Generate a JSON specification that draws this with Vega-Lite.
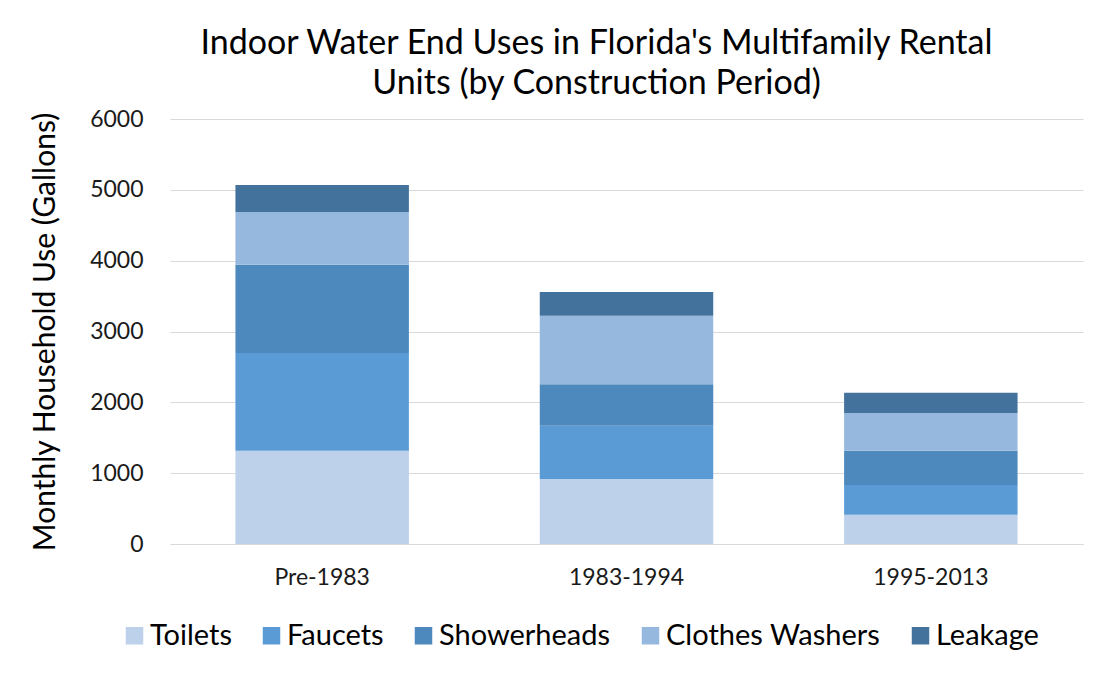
{
  "$schema": "https://vega.github.io/schema/vega-lite/v6.json",
  "width": 913,
  "height": 425,
  "autosize": "none",
  "padding": {"left": 170, "top": 119, "right": 25, "bottom": 133},
  "background": "white",
  "title": {
    "text": ["Indoor Water End Uses in Florida's Multifamily Rental", "Units (by Construction Period)"],
    "font": "Lato",
    "fontSize": 34,
    "fontWeight": "normal",
    "color": "#000000",
    "lineHeight": 40,
    "anchor": "middle",
    "dx": -30,
    "offset": 7
  },
  "data": {
    "values": [
      {"period": "Pre-1983", "use": "Toilets", "gallons": 1317},
      {"period": "Pre-1983", "use": "Faucets", "gallons": 1380},
      {"period": "Pre-1983", "use": "Showerheads", "gallons": 1246},
      {"period": "Pre-1983", "use": "Clothes Washers", "gallons": 744},
      {"period": "Pre-1983", "use": "Leakage", "gallons": 381},
      {"period": "1983-1994", "use": "Toilets", "gallons": 918},
      {"period": "1983-1994", "use": "Faucets", "gallons": 752},
      {"period": "1983-1994", "use": "Showerheads", "gallons": 584},
      {"period": "1983-1994", "use": "Clothes Washers", "gallons": 970},
      {"period": "1983-1994", "use": "Leakage", "gallons": 334},
      {"period": "1995-2013", "use": "Toilets", "gallons": 414},
      {"period": "1995-2013", "use": "Faucets", "gallons": 419},
      {"period": "1995-2013", "use": "Showerheads", "gallons": 485},
      {"period": "1995-2013", "use": "Clothes Washers", "gallons": 531},
      {"period": "1995-2013", "use": "Leakage", "gallons": 287}
    ]
  },
  "transform": [
    {"calculate": "indexof(['Toilets','Faucets','Showerheads','Clothes Washers','Leakage'], datum.use)", "as": "stackOrder"}
  ],
  "mark": {"type": "bar"},
  "encoding": {
    "x": {
      "field": "period",
      "type": "nominal",
      "sort": ["Pre-1983", "1983-1994", "1995-2013"],
      "scale": {"paddingInner": 0.43, "paddingOuter": 0.215},
      "axis": {
        "title": null,
        "labelAngle": 0,
        "labelFont": "Lato",
        "labelFontSize": 23,
        "labelColor": "#1a1a1a",
        "labelPadding": 22,
        "ticks": false,
        "domainColor": "#d9d9d9",
        "domainWidth": 1
      }
    },
    "y": {
      "field": "gallons",
      "type": "quantitative",
      "stack": "zero",
      "scale": {"domain": [0, 6000], "nice": false},
      "axis": {
        "title": "Monthly Household Use (Gallons)",
        "titleFont": "Lato",
        "titleFontSize": 30,
        "titleFontWeight": "normal",
        "titleColor": "#000000",
        "titlePadding": 29,
        "values": [0, 1000, 2000, 3000, 4000, 5000, 6000],
        "format": "d",
        "labelFont": "Lato",
        "labelFontSize": 23,
        "labelColor": "#1a1a1a",
        "labelPadding": 27,
        "ticks": false,
        "domain": false,
        "grid": true,
        "gridColor": "#d9d9d9",
        "gridWidth": 1
      }
    },
    "order": {"field": "stackOrder", "type": "quantitative", "sort": "ascending"},
    "color": {
      "field": "use",
      "type": "nominal",
      "sort": ["Toilets", "Faucets", "Showerheads", "Clothes Washers", "Leakage"],
      "scale": {
        "domain": ["Toilets", "Faucets", "Showerheads", "Clothes Washers", "Leakage"],
        "range": ["#bdd1ea", "#5b9bd5", "#4e89bd", "#97b8de", "#43729c"]
      },
      "legend": {
        "title": null,
        "orient": "none",
        "direction": "horizontal",
        "legendX": -50,
        "legendY": 502,
        "symbolType": "square",
        "symbolSize": 306,
        "symbolStrokeWidth": 0,
        "labelFont": "Lato",
        "labelFontSize": 29,
        "labelColor": "#000000",
        "labelOffset": 1,
        "labelLimit": 400,
        "columnPadding": 25
      }
    }
  },
  "config": {"view": {"stroke": null}}
}
